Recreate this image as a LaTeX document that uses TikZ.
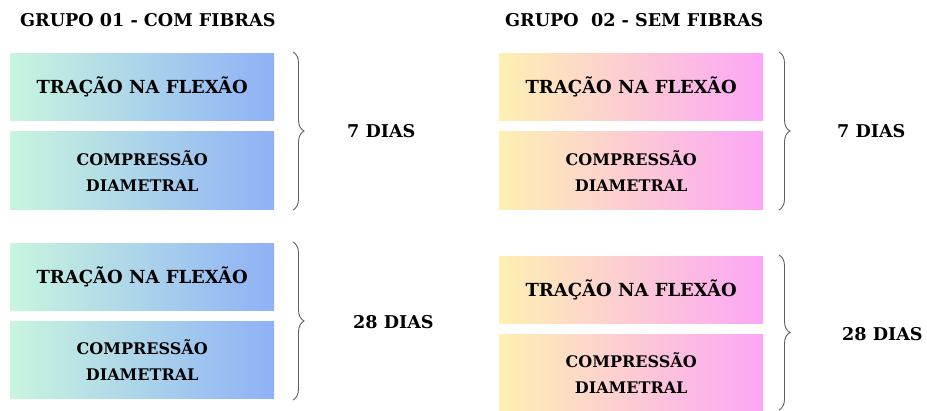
\documentclass[tikz,border=0pt]{standalone}
\usepackage{fontspec}
\setmainfont{DejaVu Serif}
\usetikzlibrary{positioning,decorations.pathreplacing}

\definecolor{mintA}{HTML}{C8F5DE}
\definecolor{blueA}{HTML}{8FB1F6}
\definecolor{yellowB}{HTML}{FDF0B2}
\definecolor{pinkB}{HTML}{FCA6F6}
\definecolor{braceGray}{HTML}{5E5E5E}

\begin{document}
\begin{tikzpicture}[x=1pt, y=-1pt,
    box/.style={inner sep=0pt, minimum width=264pt, align=center,
                font=\bfseries\fontsize{18}{22}\selectfont},
    smallbox/.style={box, font=\bfseries\fontsize{16}{26}\selectfont},
    groupA/.style={left color=mintA, right color=blueA},
    groupB/.style={left color=yellowB, right color=pinkB},
    title/.style={anchor=west, inner sep=0pt, font=\bfseries\fontsize{17.6}{20}\selectfont},
    days/.style={anchor=west, inner sep=0pt, font=\bfseries\fontsize{17.6}{20}\selectfont},
    bracket/.style={decorate, decoration={brace, amplitude=11pt}, draw=braceGray, line width=0.9pt}]
    \useasboundingbox (0,0) rectangle (927,411);

    % headers
    \node (titleA) [title] at (20,20) {GRUPO 01 - COM FIBRAS};
    \node (titleB) [title] at (505,20) {GRUPO\ \ 02 - SEM FIBRAS};

    % group 01
    \node (tracA7) [box, groupA, minimum height=67pt, anchor=north west] at (10,53) {TRAÇÃO NA FLEXÃO};
    \node (compA7) [smallbox, groupA, minimum height=78pt, below=11pt of tracA7] {COMPRESSÃO\\DIAMETRAL};
    \node (tracA28) [box, groupA, minimum height=67pt, anchor=north west] at (10,243) {TRAÇÃO NA FLEXÃO};
    \node (compA28) [smallbox, groupA, minimum height=77pt, below=11pt of tracA28] {COMPRESSÃO\\DIAMETRAL};

    % group 02
    \node (tracB7) [box, groupB, minimum height=67pt, anchor=north west] at (499,53) {TRAÇÃO NA FLEXÃO};
    \node (compB7) [smallbox, groupB, minimum height=78pt, below=11pt of tracB7] {COMPRESSÃO\\DIAMETRAL};
    \node (tracB28) [box, groupB, minimum height=67pt, anchor=north west] at (499,256) {TRAÇÃO NA FLEXÃO};
    \node (compB28) [smallbox, groupB, minimum height=76pt, below=11pt of tracB28] {COMPRESSÃO\\DIAMETRAL};

    % braces and ages
    \coordinate (braceA7a) at (293,52);  \coordinate (braceA7b) at (293,210);
    \coordinate (braceA28a) at (293,242); \coordinate (braceA28b) at (293,400);
    \coordinate (braceB7a) at (779,52);  \coordinate (braceB7b) at (779,210);
    \coordinate (braceB28a) at (779,255); \coordinate (braceB28b) at (779,410);

    \draw [bracket] (braceA7a) -- (braceA7b);
    \draw [bracket] (braceA28a) -- (braceA28b);
    \draw [bracket] (braceB7a) -- (braceB7b);
    \draw [bracket] (braceB28a) -- (braceB28b);

    \node (diasA7) [days] at (347,131) {7 DIAS};
    \node (diasA28) [days] at (353,322) {28 DIAS};
    \node (diasB7) [days] at (837,131) {7 DIAS};
    \node (diasB28) [days] at (842,334) {28 DIAS};
\end{tikzpicture}
\end{document}
